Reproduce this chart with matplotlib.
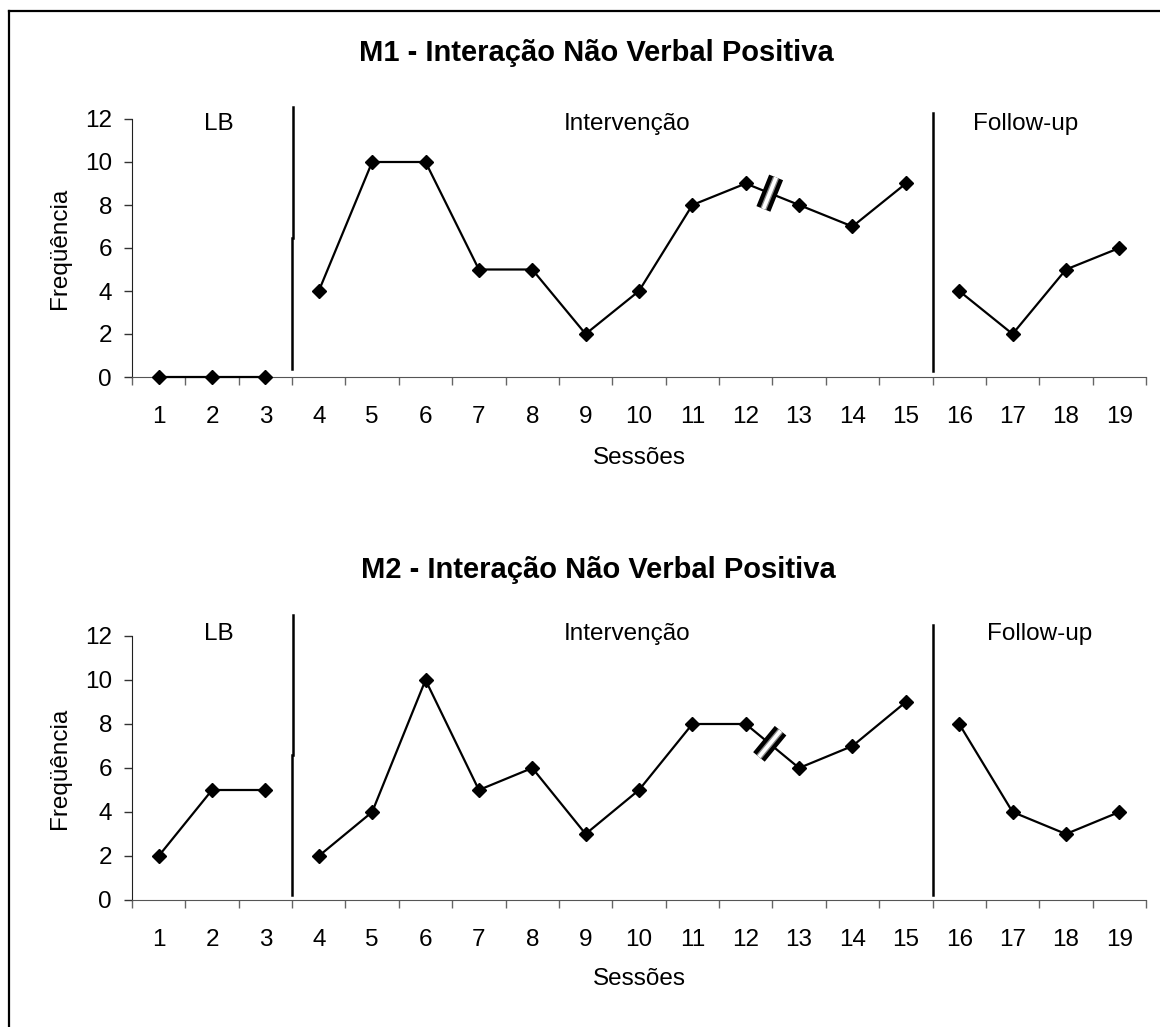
import matplotlib
matplotlib.use("Agg")
import matplotlib.pyplot as plt
import numpy as np
from matplotlib.lines import Line2D
from matplotlib.patches import Polygon

plt.rcParams["font.family"] = ["Liberation Sans", "DejaVu Sans"]

# sessions and frequencies per participant
sessions = list(range(1, 20))
m1_freq = [0, 0, 0, 4, 10, 10, 5, 5, 2, 4, 8, 9, 8, 7, 9, 4, 2, 5, 6]
m2_freq = [2, 5, 5, 2, 4, 10, 5, 6, 3, 5, 8, 8, 6, 7, 9, 8, 4, 3, 4]
titles = ["M1 - Interação Não Verbal Positiva", "M2 - Interação Não Verbal Positiva"]
phase_names = ["LB", "Intervenção", "Follow-up"]
phase_sessions = [(1, 3), (4, 15), (16, 19)]
phase_changes = [3.5, 15.5]
break_after = 12  # gap in time between session 12 and 13
y_ticks = [0, 2, 4, 6, 8, 10, 12]

W, H = 1160, 1027
FS = 17.5


def px_rect(left, top, right, bottom):
    return [left / W, 1 - bottom / H, (right - left) / W, (bottom - top) / H]


def fig_text(fig, x, y, s, **kw):
    fig.text(x / W, 1 - y / H, s, ha="center", va="center", **kw)


def draw_break(ax, x0, y0, x1, y1, frac=0.45, half_len=17):
    # slanted "//" marker across the line, built in pixel space
    p0 = ax.transData.transform((x0, y0))
    p1 = ax.transData.transform((x1, y1))
    c = p0 + frac * (p1 - p0)
    d = (p1 - p0) / np.hypot(*(p1 - p0))
    n = np.array([-d[1], d[0]])
    inv = ax.transData.inverted()

    def quad(hw):
        pts = [c + n * half_len + d * hw, c - n * half_len + d * hw,
               c - n * half_len - d * hw, c + n * half_len - d * hw]
        return inv.transform(pts)

    for hw, col, z in [(7.5, "black", 4), (3.2, "#8a8a8a", 5), (1.9, "white", 6)]:
        ax.add_patch(Polygon(quad(hw), closed=True, fc=col, ec="none", zorder=z))


panels = [
    dict(data=m1_freq, title=titles[0], rect=(132, 119, 1146, 377),
         title_xy=(596, 53), xlabel_y=458, ylabel_y=248,
         label_x=[2.13, 9.77, 17.25], label_y=11.75,
         lines=[(0.37, 12.56, 6.47), (0.28, 12.28, None)]),
    dict(data=m2_freq, title=titles[1], rect=(132, 636, 1146, 900),
         title_xy=(598, 570), xlabel_y=979, ylabel_y=768,
         label_x=[2.13, 9.77, 17.5], label_y=12.1,
         lines=[(0.23, 12.95, 6.6), (0.23, 12.5, None)]),
]

fig = plt.figure(figsize=(W / 100, H / 100), dpi=100)

for p in panels:
    ax = fig.add_axes(px_rect(*p["rect"]))
    ax.set_xlim(0.5, 19.5)
    ax.set_ylim(0, 12)

    for (a, b) in phase_sessions:
        xs = sessions[a - 1:b]
        ys = p["data"][a - 1:b]
        ax.plot(xs, ys, color="black", lw=1.6, marker="D", markersize=6.8,
                zorder=3, clip_on=False)

    draw_break(ax, break_after, p["data"][break_after - 1],
               break_after + 1, p["data"][break_after])

    for xc, (y0, y1, jog) in zip(phase_changes, p["lines"]):
        if jog is None:
            ax.plot([xc, xc], [y0, y1], color="black", lw=1.8, clip_on=False)
        else:
            ax.plot([xc, xc], [y0, jog], color="black", lw=1.8, clip_on=False)
            ax.plot([xc + 0.024, xc + 0.024], [jog, y1], color="black", lw=1.8,
                    clip_on=False)

    for name, lx in zip(phase_names, p["label_x"]):
        ax.text(lx, p["label_y"], name, ha="center", va="center", fontsize=FS,
                clip_on=False)

    ax.spines["top"].set_visible(False)
    ax.spines["right"].set_visible(False)
    ax.spines["left"].set_color("#202020")
    ax.spines["bottom"].set_color("#555555")

    ax.set_xticks(sessions)
    ax.set_xticklabels([str(s) for s in sessions])
    ax.set_xticks(np.arange(0.5, 20, 1), minor=True)
    ax.tick_params(axis="x", which="major", length=0, pad=21, labelsize=FS)
    ax.tick_params(axis="x", which="minor", length=6, width=1, color="#666666")
    ax.set_yticks(y_ticks)
    ax.tick_params(axis="y", length=6, width=1, color="#333333", pad=8.4,
                   labelsize=FS)

    fig_text(fig, p["title_xy"][0], p["title_xy"][1], p["title"],
             fontsize=21, fontweight="bold")
    fig_text(fig, 639, p["xlabel_y"], "Sessões", fontsize=FS)
    fig_text(fig, 60, p["ylabel_y"], "Freqüência", fontsize=FS, rotation=90)

# frame along the top and left edges
fig.add_artist(Line2D([9 / W, 1], [1 - 11 / H, 1 - 11 / H], color="black", lw=1.6))
fig.add_artist(Line2D([9 / W, 9 / W], [0, 1 - 11 / H], color="black", lw=1.6))

fig.savefig("out.png", dpi=100, facecolor="white")
plt.close(fig)
